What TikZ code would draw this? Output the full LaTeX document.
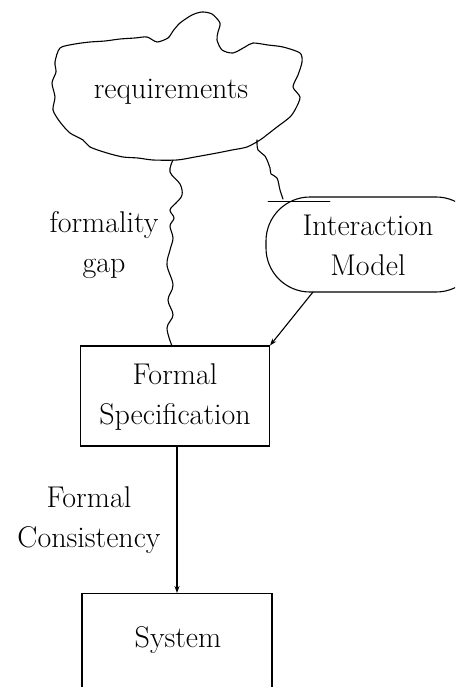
\documentclass[tikz,border=0pt]{standalone}
\usetikzlibrary{arrows.meta}
\begin{document}
\begin{tikzpicture}[x=1pt,y=-1pt,
  line/.style={line width=1.1pt, line join=round, line cap=round},
  lbl/.style={font=\fontsize{30}{40}\selectfont, inner sep=0pt, align=center},
  boxnode/.style={draw, line width=1.1pt, inner sep=0pt}]
\useasboundingbox (0,0) rectangle (455,687);
\begin{scope}
\clip (0,0) rectangle (455,687);
% cloud
\draw[line] plot[smooth cycle, tension=0.45] coordinates {
 (55,62) (60,48) (75,44) (90,42) (105,41) (120,39) (135,38) (147,37) (157,42) (168,38) (173,31)
 (180,23) (192,15) (202,12) (212,14) (220,23) (218,32) (217,40) (222,50) (233,53)
 (245,47) (253,43) (268,45) (283,47) (300,53) (302,62) (298,75) (293,87) (300,97)
 (296,108) (290,117) (277,127) (268,134) (260,140) (247,147) (232,150) (217,153)
 (195,157) (177,160) (153,160) (138,158) (123,157) (107,153) (90,147) (83,140)
 (70,133) (60,122) (53,110) (55,97) (52,83) (56,72)};
\node[lbl] (req) at (171,92) {requirements};
\coordinate (cb1) at (173,160);
\coordinate (cb2) at (257,140);
% interaction model
\draw[line, rounded corners=44] (266,197) rectangle (480,292);
\draw[line, line width=0.8pt] (268,201) -- (330,201);
\coordinate (imtop) at (283,199);
\coordinate (imbot) at (313,292);
\node[lbl] (im) at (368,245) {Interaction\\Model};
% formal specification
\node[boxnode, minimum width=189pt, minimum height=100pt] (fs) at (175,396) {};
\node[lbl] (fsl) at (175,397) {Formal\\Specification};
% system
\node[boxnode, minimum width=190pt, minimum height=130pt, anchor=north] (sys) at (177,593) {};
\node[lbl, anchor=base] (sysl) at (178,647) {System};
% labels
\node[lbl] (fg) at (104,245) {formality\\gap};
\node[lbl] (fc) at (89,520) {Formal\\Consistency};
% connectors
\draw[line] (cb1) plot[smooth, tension=0.6] coordinates {
 (173,160) (170,172) (180,184) (182,195) (176,203) (170,210) (174,218) (170,226)
 (173,238) (170,250) (167,265) (173,285) (168,300) (173,315) (167,328) (172,346)};
\draw[line] plot[smooth, tension=0.6] coordinates {
 (257,140) (258,150) (265,156) (270,168) (271,174) (277,178) (280,190) (283,199)};
\draw[line, -{Stealth[length=7pt,width=5pt]}] (imbot) -- (fs.north east);
\draw[line, -{Stealth[length=7pt,width=5pt]}] (177,446) -- (sys.north);
\end{scope}
\end{tikzpicture}
\end{document}
